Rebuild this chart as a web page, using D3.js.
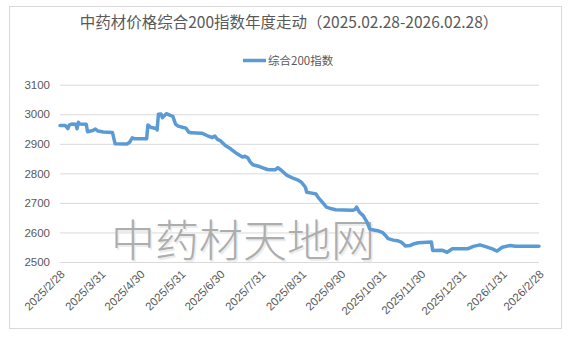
<!DOCTYPE html>
<html><head><meta charset="utf-8">
<script src="https://cdn.jsdelivr.net/npm/d3@7/dist/d3.min.js"></script>
<style>body{margin:0;background:#fff}svg{display:block}text{font-family:"Noto Sans CJK SC","Noto Sans",sans-serif}</style>
</head><body><svg id="c" width="585" height="348"></svg>
<script>
const titleText = "中药材价格综合200指数年度走动（2025.02.28-2026.02.28）";
const seriesName = "综合200指数";
const watermark = "中药材天地网";
const dates = ["2025-02-28","2025-03-04","2025-03-06","2025-03-07","2025-03-09","2025-03-12","2025-03-13","2025-03-14","2025-03-15","2025-03-20","2025-03-21","2025-03-25","2025-03-27","2025-03-29","2025-04-02","2025-04-09","2025-04-11","2025-04-20","2025-04-22","2025-04-24","2025-04-26","2025-05-05","2025-05-06","2025-05-08","2025-05-12","2025-05-13","2025-05-14","2025-05-16","2025-05-17","2025-05-20","2025-05-23","2025-05-25","2025-05-27","2025-05-29","2025-06-02","2025-06-04","2025-06-06","2025-06-08","2025-06-16","2025-06-20","2025-06-24","2025-06-26","2025-06-28","2025-06-30","2025-07-04","2025-07-08","2025-07-13","2025-07-17","2025-07-19","2025-07-21","2025-07-23","2025-07-25","2025-07-30","2025-08-05","2025-08-07","2025-08-11","2025-08-13","2025-08-16","2025-08-20","2025-08-24","2025-08-28","2025-08-31","2025-09-03","2025-09-04","2025-09-08","2025-09-11","2025-09-13","2025-09-16","2025-09-19","2025-09-23","2025-09-26","2025-10-09","2025-10-11","2025-10-12","2025-10-14","2025-10-17","2025-10-20","2025-10-22","2025-10-24","2025-10-28","2025-11-01","2025-11-03","2025-11-05","2025-11-09","2025-11-12","2025-11-15","2025-11-17","2025-11-18","2025-11-22","2025-11-25","2025-11-28","2025-12-08","2025-12-09","2025-12-16","2025-12-20","2025-12-24","2026-01-05","2026-01-09","2026-01-14","2026-01-19","2026-01-23","2026-01-27","2026-01-31","2026-02-06","2026-02-10","2026-02-28"];
const values = [2962,2962,2951,2963,2967,2966,2951,2973,2967,2966,2941,2945,2950,2943,2940,2938,2900,2899,2905,2920,2917,2917,2964,2956,2952,2947,3000,3001,2988,3002,2996,2993,2967,2960,2955,2953,2940,2937,2936,2928,2921,2926,2915,2911,2894,2883,2866,2855,2858,2853,2838,2829,2823,2813,2812,2812,2819,2809,2793,2785,2778,2770,2753,2736,2733,2730,2717,2702,2686,2680,2677,2675,2678,2686,2669,2657,2635,2612,2609,2606,2599,2590,2579,2574,2572,2567,2560,2554,2556,2562,2565,2568,2539,2540,2533,2545,2545,2553,2558,2551,2545,2537,2550,2556,2553,2553];
const yTicks = [2500,2600,2700,2800,2900,3000,3100];
const xTickLabels = ["2025/2/28","2025/3/31","2025/4/30","2025/5/31","2025/6/30","2025/7/31","2025/8/31","2025/9/30","2025/10/31","2025/11/30","2025/12/31","2026/1/31","2026/2/28"];

const parse = d3.timeParse("%Y-%m-%d");
const parseTick = d3.timeParse("%Y/%m/%d");
const data = dates.map((d,i)=>({date:parse(d), value:values[i]}));
const tickDates = xTickLabels.map(t=>parseTick(t));

const svg = d3.select("#c");
svg.append("rect").attr("x",9.5).attr("y",6.5).attr("width",552).attr("height",322)
  .attr("fill","#fff").attr("stroke","#d9d9d9");

const x = d3.scaleTime().domain([parse("2025-02-28"), parse("2026-02-28")]).range([60,539]);
const y = d3.scaleLinear().domain([2500,3100]).range([262,84.7]);

const yAxis = d3.axisLeft(y).tickValues(yTicks).tickSize(-(539-60)).tickPadding(10).tickFormat(d3.format("d"));
const gy = svg.append("g").attr("transform","translate(60,0)").call(yAxis);
gy.select(".domain").remove();
gy.selectAll(".tick line").attr("stroke","#d9d9d9").attr("stroke-width",1);
gy.selectAll(".tick text").attr("fill","#595959").attr("font-size",11.5)
  .style("font-family","'Liberation Sans','DejaVu Sans',sans-serif").attr("x",-10);

const xAxis = d3.axisBottom(x).tickValues(tickDates).tickSize(0).tickFormat((d,i)=>xTickLabels[i]);
const gx = svg.append("g").attr("transform","translate(0,262)").call(xAxis);
gx.select(".domain").remove();
gx.selectAll(".tick text").attr("fill","#595959").attr("font-size",11.5)
  .style("font-family","'Liberation Sans','DejaVu Sans',sans-serif")
  .attr("text-anchor","end").attr("y",0).attr("dy",0)
  .attr("transform","translate(5,13) rotate(-45)");

const wm = svg.append("g");
wm.append("text").attr("x",243).attr("y",257).attr("text-anchor","middle")
  .attr("font-size",44).attr("font-weight",300).attr("fill","#ececec")
  .attr("transform","translate(1.5,1.5)").text(watermark);
wm.append("text").attr("x",243).attr("y",257).attr("text-anchor","middle")
  .attr("font-size",44).attr("font-weight",300).attr("fill","#adadad")
  .text(watermark);

const line = d3.line().x(d=>x(d.date)).y(d=>y(d.value));
svg.append("path").datum(data).attr("d",line).attr("fill","none")
  .attr("stroke","#5b9bd5").attr("stroke-width",3.5).attr("stroke-linejoin","round").attr("stroke-linecap","round");

svg.append("text").attr("x",289).attr("y",28).attr("text-anchor","middle")
  .attr("font-size",15.5).attr("fill","#595959").text(titleText);

svg.append("line").attr("x1",243).attr("x2",266).attr("y1",60.5).attr("y2",60.5)
  .attr("stroke","#5b9bd5").attr("stroke-width",3.5);
svg.append("text").attr("x",268).attr("y",64.5).attr("font-size",11.5).attr("fill","#595959").text(seriesName);
</script></body></html>
